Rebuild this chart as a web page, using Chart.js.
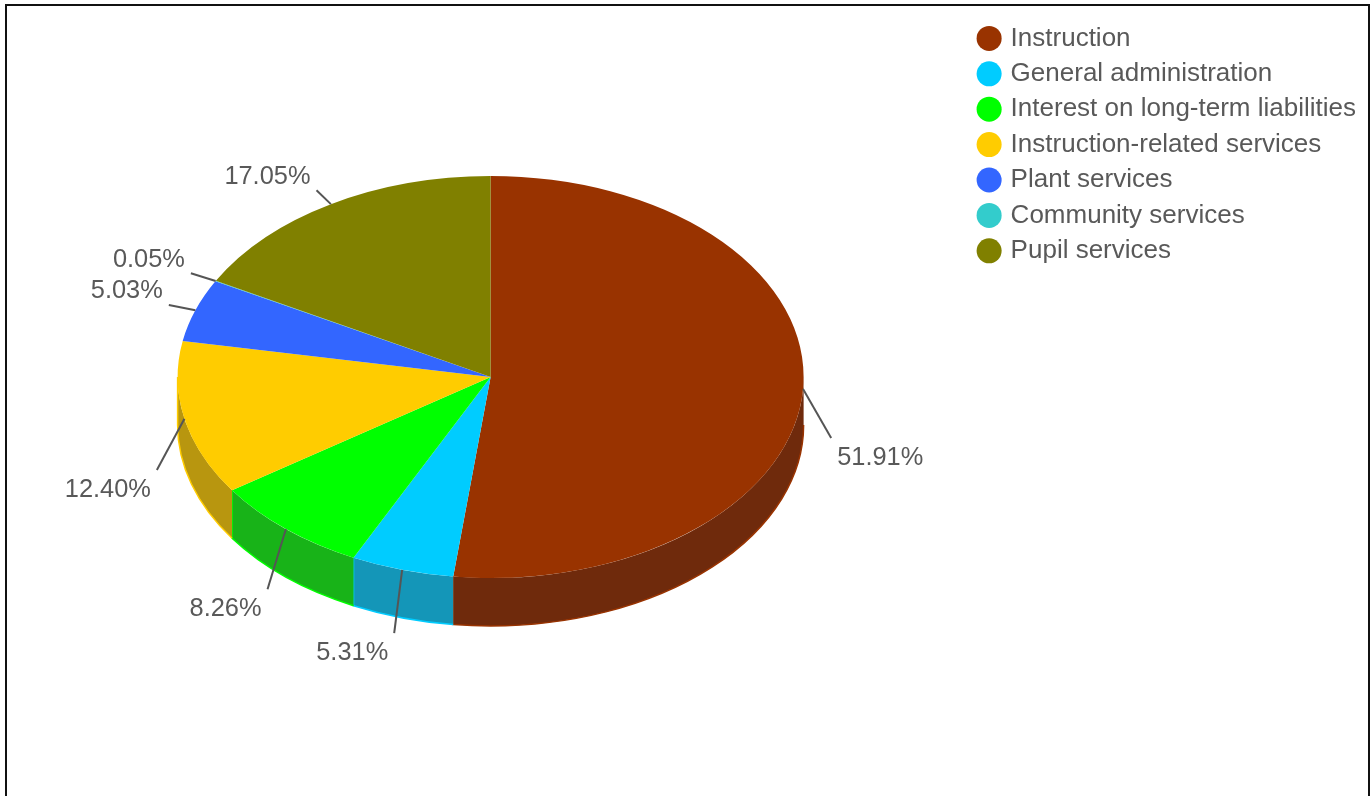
<!DOCTYPE html>
<html>
<head>
<meta charset="utf-8">
<title>Expenditures by function</title>
<script src="https://cdn.jsdelivr.net/npm/chart.js@4"></script>
<style>
    html, body { margin: 0; padding: 0; background: #fff; overflow: hidden; }
    #frame {
        position: absolute;
        left: 5px;
        top: 4px;
        width: 1361px;
        height: 900px;
        border: 2px solid #111;
    }
    #expenses { position: absolute; left: 0; top: 0; }
</style>
</head>
<body>
<div id="frame"></div>
<canvas id="expenses" width="1372" height="796"></canvas>
<script>
const categories = [
    'Instruction',
    'General administration',
    'Interest on long-term liabilities',
    'Instruction-related services',
    'Plant services',
    'Community services',
    'Pupil services'
];
const shares = [51.91, 5.31, 8.26, 12.40, 5.03, 0.05, 17.05];
const sliceColors = ['#993300', '#00CCFF', '#00FF00', '#FFCC00', '#3366FF', '#33CCCC', '#808000'];
const wallColors = ['#6F2A0C', '#1496B8', '#18B318', '#B8960F', '#2A4DB8', '#26969A', '#5C5C00'];

const TEXT_COLOR = '#595959';
const LEADER_COLOR = '#555555';
const FONT_FAMILY = '"Liberation Sans", Arial, sans-serif';

// The pie is a flat circle squashed vertically, with a wall below it
const tilt = 201 / 313;
const depth = 48;

// Side wall of the pie, only the part of each slice facing the viewer
function drawWalls(ctx, arcs) {
    arcs.forEach((arc, i) => {
        const { x, y, startAngle, endAngle, outerRadius } = arc.getProps(['x', 'y', 'startAngle', 'endAngle', 'outerRadius']);
        const from = Math.max(startAngle, 0);
        const to = Math.min(endAngle, Math.PI);
        if (to <= from) return;

        const ry = outerRadius * tilt;
        ctx.beginPath();
        ctx.ellipse(x, y, outerRadius, ry, 0, from, to);
        ctx.ellipse(x, y + depth, outerRadius, ry, 0, to, from, true);
        ctx.closePath();
        ctx.fillStyle = wallColors[i];
        ctx.fill();

        // Bright rim along the bottom and the trailing edge
        ctx.beginPath();
        ctx.ellipse(x, y + depth, outerRadius, ry, 0, from, to);
        ctx.lineTo(x + outerRadius * Math.cos(to), y + ry * Math.sin(to));
        ctx.strokeStyle = sliceColors[i];
        ctx.lineWidth = 1.5;
        ctx.stroke();
    });
}

const pie3d = {
    id: 'pie3d',
    beforeDatasetDraw(chart, args) {
        const ctx = chart.ctx;
        const arcs = args.meta.data;
        drawWalls(ctx, arcs);
        const cy = arcs[0].y;
        ctx.save();
        ctx.translate(0, cy);
        ctx.scale(1, tilt);
        ctx.translate(0, -cy);
    },
    afterDatasetDraw(chart) {
        chart.ctx.restore();
    }
};

// Leader lines and percentage labels around the rim
const sliceLabels = {
    id: 'sliceLabels',
    afterDatasetsDraw(chart) {
        const ctx = chart.ctx;
        chart.getDatasetMeta(0).data.forEach((arc, i) => {
            const { x, y, startAngle, endAngle, outerRadius } = arc.getProps(['x', 'y', 'startAngle', 'endAngle', 'outerRadius']);
            const mid = (startAngle + endAngle) / 2;
            const cos = Math.cos(mid);
            const sin = Math.sin(mid);
            const ry = outerRadius * tilt;
            const lower = sin > 0;

            const x0 = x + outerRadius * cos;
            const y0 = y + ry * sin;
            const x1 = x + outerRadius * 1.09 * cos;
            const y1 = y + ry * 1.08 * sin + (lower ? depth : 0);

            ctx.beginPath();
            ctx.moveTo(x0, y0);
            ctx.lineTo(x1, y1);
            ctx.strokeStyle = LEADER_COLOR;
            ctx.lineWidth = 2;
            ctx.stroke();

            ctx.font = '25.4px ' + FONT_FAMILY;
            ctx.fillStyle = TEXT_COLOR;
            ctx.textBaseline = 'middle';
            ctx.textAlign = cos > 0 ? 'left' : 'right';
            ctx.fillText(shares[i].toFixed(2) + '%', x1 + (cos > 0 ? 6 : -6), y1 + (lower ? 20 : -13.5));
        });
    }
};

new Chart(document.getElementById('expenses'), {
    type: 'pie',
    data: {
        labels: categories,
        datasets: [{
            data: shares,
            backgroundColor: sliceColors,
            borderWidth: 0,
            radius: 313,
            clip: false
        }]
    },
    options: {
        responsive: false,
        animation: false,
        layout: {
            padding: { left: 10, right: 6, top: 16, bottom: 58 }
        },
        plugins: {
            tooltip: { enabled: false },
            legend: {
                position: 'right',
                align: 'start',
                labels: {
                    usePointStyle: true,
                    pointStyle: 'circle',
                    boxWidth: 17,
                    boxHeight: 17.7,
                    padding: 9.4,
                    color: TEXT_COLOR,
                    font: { family: FONT_FAMILY, size: 26, lineHeight: 1.15 }
                }
            }
        }
    },
    plugins: [pie3d, sliceLabels]
});
</script>
</body>
</html>
